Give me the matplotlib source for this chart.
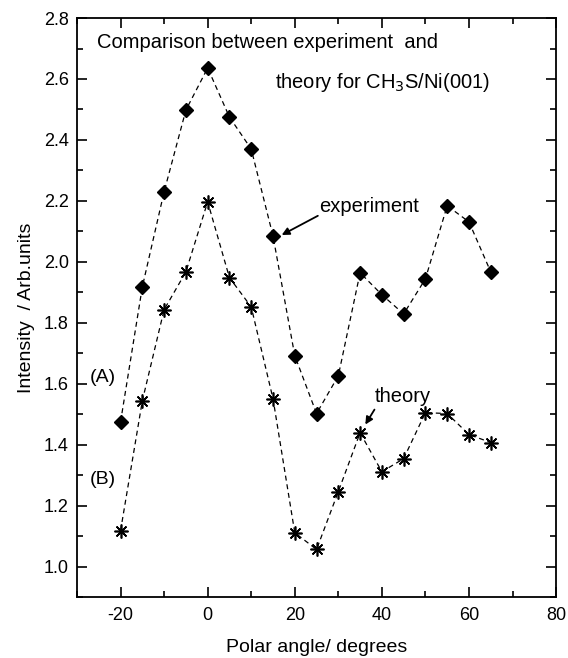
import matplotlib
matplotlib.use("Agg")
import matplotlib.pyplot as plt
from matplotlib.ticker import MultipleLocator

plt.rcParams['font.family'] = ['Liberation Sans', 'DejaVu Sans']
plt.rcParams['axes.unicode_minus'] = False

# polar angles (degrees)
angle = [-20, -15, -10, -5, 0, 5, 10, 15, 20, 25, 30, 35, 40, 45, 50, 55, 60, 65]
# (A) experiment
experiment = [1.475, 1.918, 2.23, 2.498, 2.636, 2.475, 2.37, 2.085, 1.692,
              1.502, 1.626, 1.964, 1.892, 1.829, 1.944, 2.184, 2.131, 1.967]
# (B) theory
theory = [1.118, 1.544, 1.843, 1.967, 2.197, 1.948, 1.852, 1.551, 1.111,
          1.056, 1.246, 1.439, 1.311, 1.354, 1.505, 1.502, 1.433, 1.407]

fig = plt.figure(figsize=(5.68, 6.58), dpi=100)
ax = fig.add_axes([0.1356, 0.0927, 0.8434, 0.8799])

ax.plot(angle, experiment, color='black', lw=0.9, dashes=(4, 3),
        marker='D', markersize=7, markerfacecolor='black', markeredgecolor='black')
ax.plot(angle, theory, color='black', lw=0.9, dashes=(4, 3),
        marker=(8, 2, 0), markersize=10, markeredgewidth=1.2, markeredgecolor='black')

ax.set_xlim(-30, 80)
ax.set_ylim(0.9, 2.8)
ax.xaxis.set_major_locator(MultipleLocator(20))
ax.xaxis.set_minor_locator(MultipleLocator(10))
ax.yaxis.set_minor_locator(MultipleLocator(0.1))
ax.set_yticks([1.0, 1.2, 1.4, 1.6, 1.8, 2.0, 2.2, 2.4, 2.6, 2.8])
ax.yaxis.set_major_formatter(plt.FuncFormatter(lambda v, p: f"{v:.1f}"))
ax.tick_params(which='both', direction='in', top=True, right=True, width=1.2)
ax.tick_params(which='major', length=7, labelsize=13, pad=7)
ax.tick_params(axis='y', which='major', pad=6)
ax.tick_params(which='minor', length=4)
for s in ax.spines.values():
    s.set_linewidth(1.3)

ax.set_xlabel("Polar angle/ degrees", fontsize=14, labelpad=11)
ax.set_ylabel("Intensity  / Arb.units", fontsize=14, labelpad=6)

ax.text(-25.4, 2.721, "Comparison between experiment  and", fontsize=14.5, va='center')
ax.text(15.4, 2.587, "theory for CH$_3$S/Ni(001)", fontsize=14.5, va='center')
ax.text(-27.0, 1.62, "(A)", fontsize=14, va='center')
ax.text(-27.0, 1.285, "(B)", fontsize=14, va='center')

ax.text(25.7, 2.18, "experiment", fontsize=14.5, va='center')
ax.annotate("", xy=(17.0, 2.088), xytext=(25.3, 2.151),
            arrowprops=dict(arrowstyle='-|>', color='black', lw=1.3,
                            mutation_scale=11, shrinkA=0, shrinkB=0))
ax.text(38.3, 1.557, "theory", fontsize=14.5, va='center')
ax.annotate("", xy=(36.2, 1.466), xytext=(38.3, 1.515),
            arrowprops=dict(arrowstyle='-|>', color='black', lw=1.3,
                            mutation_scale=11, shrinkA=0, shrinkB=0))

fig.savefig("out.png", dpi=100)
